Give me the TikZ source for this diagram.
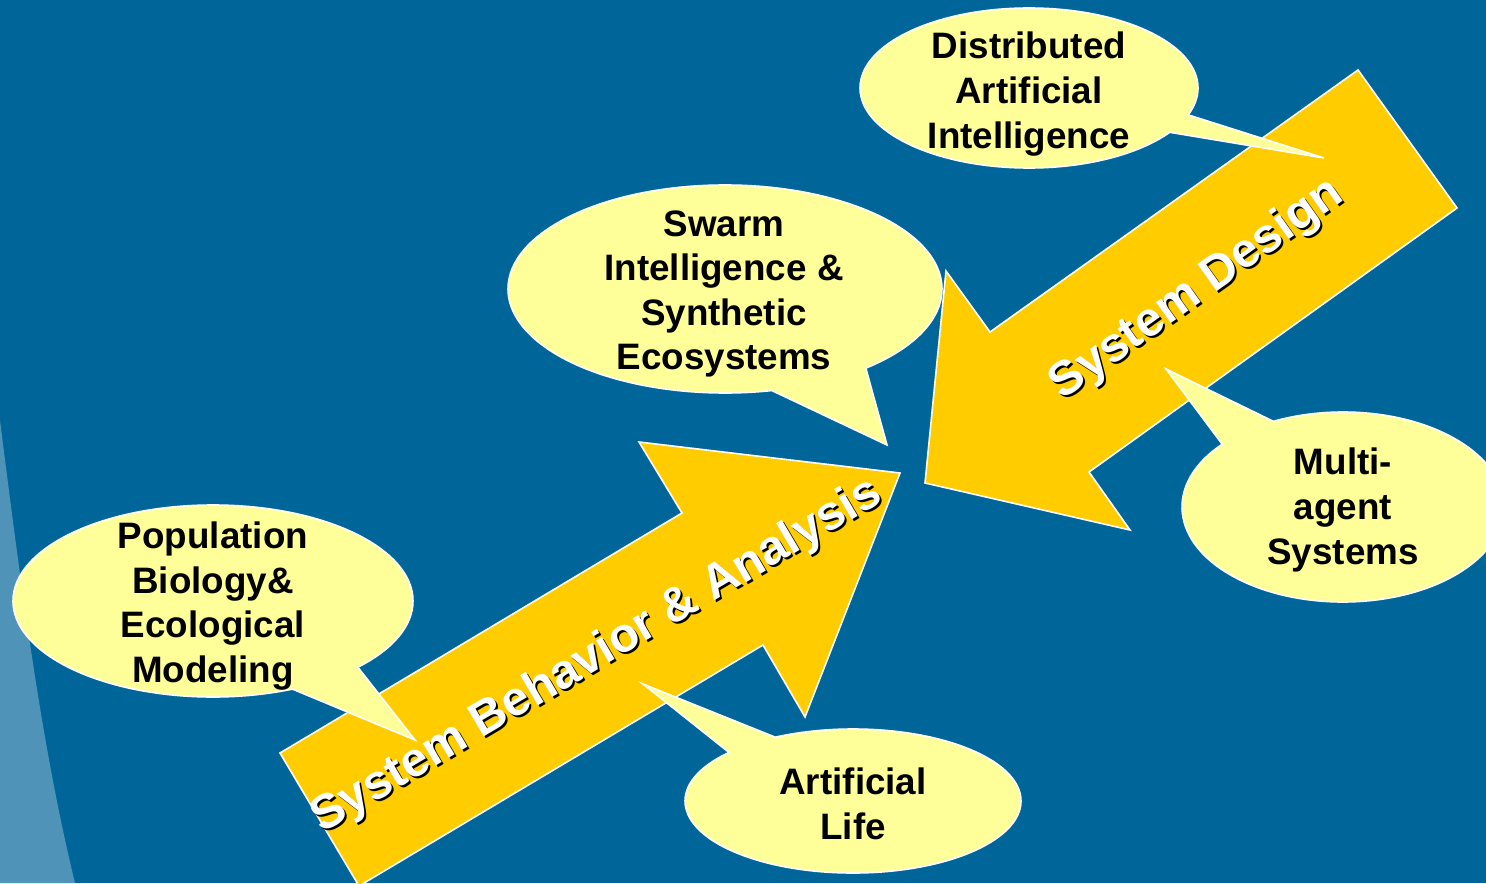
\documentclass[tikz,border=0pt]{standalone}
\usepackage{fontspec}
\setmainfont{Liberation Sans}
\usetikzlibrary{shapes.callouts}
\definecolor{bgblue}{RGB}{0,102,153}
\definecolor{stripeblue}{RGB}{80,147,185}
\definecolor{arrowyellow}{RGB}{255,204,0}
\definecolor{bubbleyellow}{RGB}{255,255,153}

\begin{document}
\begin{tikzpicture}[x=0.5pt, y=-0.5pt,
    bubble/.style={ellipse callout, fill=bubbleyellow, draw=white, line width=0.8pt, inner sep=0pt, outer sep=0pt},
    bubbletext/.style={align=center, font=\fontsize{18.4}{22.3}\selectfont\bfseries, inner sep=0pt},
    bigarrow/.style={fill=arrowyellow, draw=white, line width=0.8pt, line join=miter},
    arrowtext/.style={font=\fontsize{24.2}{29}\selectfont\bfseries, text=white, inner sep=0pt},
    arrowshadow/.style={arrowtext, text=black}
]
    % Background and left stripe
    \useasboundingbox (0,0) rectangle (1486,883);
    \clip (0,0) rectangle (1486,883);
    \fill[bgblue] (0,0) rectangle (1486,883);
    \fill[stripeblue] (0,420) .. controls (25,620) and (45,760) .. (75,883) -- (0,883) -- cycle;

    % Big arrows
    \draw[bigarrow] (280,753) -- (682,513) -- (639,442) -- (900,473) -- (805,717) -- (763,645) -- (359,886) -- cycle;
    \draw[bigarrow] (1358,70) -- (990,332) -- (946,271) -- (925,483) -- (1130,530) -- (1089,472) -- (1457,208) -- cycle;

    % Arrow labels
    \node[arrowshadow, rotate=30.6] (behavior-sh) at (599,658) {System Behavior \& Analysis};
    \node[arrowtext, rotate=30.6] (behavior) at (597,656) {System Behavior \& Analysis};
    \node[arrowshadow, rotate=35.4] (design-sh) at (1199,292) {System Design};
    \node[arrowtext, rotate=35.4] (design) at (1197,290) {System Design};

    % Callout bubbles
    \node[bubble, minimum width=169pt, minimum height=80pt, callout absolute pointer={(1324,158)}, callout pointer arc=14] (dai) at (1029,88) {};
    \node[bubble, minimum width=217pt, minimum height=104pt, callout absolute pointer={(887,445)}, callout pointer arc=28] (swarm) at (725,289) {};
    \node[bubble, minimum width=200pt, minimum height=96pt, callout absolute pointer={(415,740)}, callout pointer arc=23] (popbio) at (213,601) {};
    \node[bubble, minimum width=168pt, minimum height=72pt, callout absolute pointer={(643,684)}, callout pointer arc=20] (alife) at (853,801) {};
    \node[bubble, minimum width=161pt, minimum height=95pt, callout absolute pointer={(1166,369)}, callout pointer arc=23] (multi) at (1343,507) {};

    % Bubble texts
    \node[bubbletext] (dai-txt) at (1029,94) {Distributed\\Artificial\\Intelligence};
    \node[bubbletext] (swarm-txt) at (724,294) {Swarm\\Intelligence \&\\Synthetic\\Ecosystems};
    \node[bubbletext] (popbio-txt) at (213,606) {Population\\Biology\&\\Ecological\\Modeling};
    \node[bubbletext] (alife-txt) at (853,804) {Artificial\\Life};
    \node[bubbletext] (multi-txt) at (1343,510) {Multi-\\agent\\Systems};
\end{tikzpicture}
\end{document}
